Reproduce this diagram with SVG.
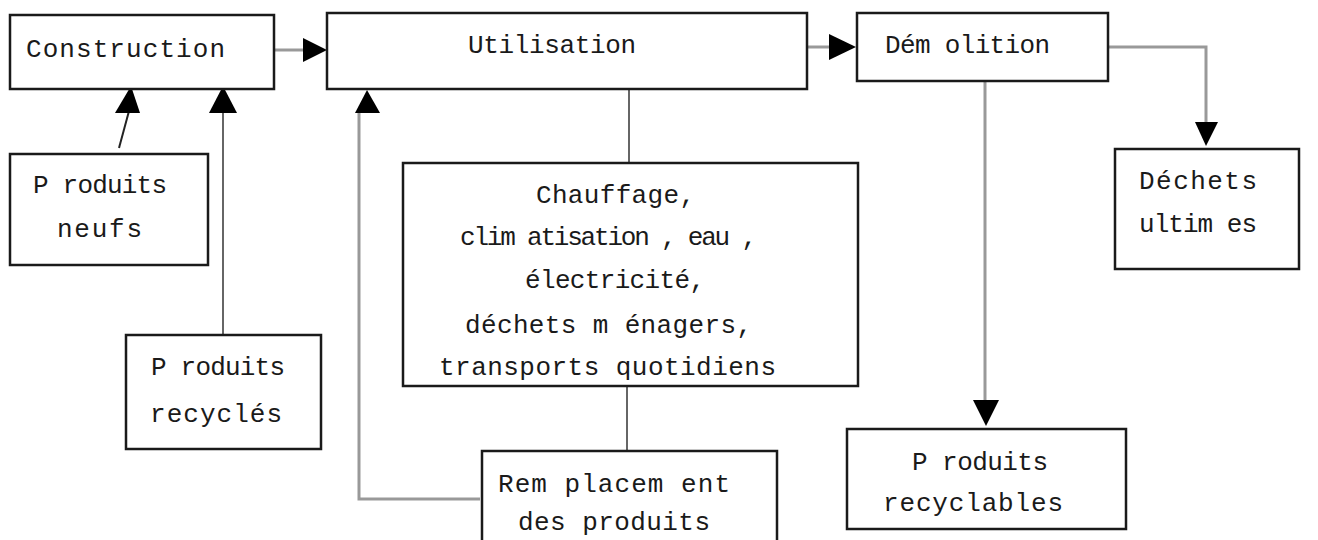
<svg xmlns="http://www.w3.org/2000/svg" width="1318" height="540" viewBox="0 0 1318 540">
<style>
.box{fill:#fff;stroke:#1a1a1a;stroke-width:2.5}
.t{font-family:"Liberation Mono","DejaVu Sans Mono",monospace;font-size:26px;fill:#1a1a1a}
.g{fill:none;stroke:#999;stroke-width:3}
.d{fill:none;stroke:#666;stroke-width:2}
.k{fill:none;stroke:#222;stroke-width:2}
.ah{fill:#000}
</style>
<rect width="1318" height="540" fill="#fff"/>
<g id="connectors">
<line class="g" x1="274" y1="50" x2="305" y2="50"/>
<polygon class="ah" points="303,38 303,62 327,50"/>
<line class="g" x1="807" y1="47" x2="831" y2="47"/>
<polygon class="ah" points="829,34 829,60 856,47"/>
<polyline class="g" points="1108,47 1206,47 1206,124"/>
<polygon class="ah" points="1195,122 1218,122 1206,146"/>
<line class="g" x1="985" y1="81" x2="985" y2="402"/>
<polygon class="ah" points="973,400 999,400 986,426"/>
<line class="k" x1="119" y1="148" x2="129" y2="111"/>
<polygon class="ah" points="115,113 140,113 131,86"/>
<line class="d" x1="223" y1="335" x2="223" y2="111"/>
<polygon class="ah" points="209,113 237,113 223,86"/>
<line class="d" x1="629" y1="89" x2="629" y2="163"/>
<line class="d" x1="627" y1="386" x2="627" y2="451"/>
<polyline class="g" points="480,499 359,499 359,111"/>
<polygon class="ah" points="355,113 380,113 367,90"/>
</g>
<g id="construction">
<rect class="box" x="10" y="15" width="264" height="74"/>
<text class="t" x="26" y="57" textLength="199" lengthAdjust="spacing">Construction</text>
</g>
<g id="utilisation">
<rect class="box" x="327" y="13" width="480" height="76"/>
<text class="t" x="468" y="53" textLength="168" lengthAdjust="spacing">Utilisation</text>
</g>
<g id="demolition">
<rect class="box" x="857" y="13" width="251" height="68"/>
<text class="t" x="885" y="53" textLength="165" lengthAdjust="spacing">Dém olition</text>
</g>
<g id="dechets-ultimes">
<rect class="box" x="1115" y="149" width="184" height="120"/>
<text class="t" x="1139" y="189" textLength="118" lengthAdjust="spacing">Déchets</text>
<text class="t" x="1139" y="232" textLength="118" lengthAdjust="spacing">ultim es</text>
</g>
<g id="produits-neufs">
<rect class="box" x="10" y="154" width="198" height="111"/>
<text class="t" x="33" y="193" textLength="134" lengthAdjust="spacing">P roduits</text>
<text class="t" x="57" y="237" textLength="85" lengthAdjust="spacing">neufs</text>
</g>
<g id="produits-recycles">
<rect class="box" x="126" y="335" width="195" height="114"/>
<text class="t" x="151" y="375" textLength="134" lengthAdjust="spacing">P roduits</text>
<text class="t" x="150" y="422" textLength="132" lengthAdjust="spacing">recyclés</text>
</g>
<g id="consommations">
<rect class="box" x="403" y="163" width="455" height="223"/>
<text class="t" x="536" y="203" textLength="159" lengthAdjust="spacing">Chauffage,</text>
<text class="t" x="460" y="245" textLength="297" lengthAdjust="spacing">clim atisation , eau ,</text>
<text class="t" x="525" y="288" textLength="180" lengthAdjust="spacing">électricité,</text>
<text class="t" x="465" y="333" textLength="287" lengthAdjust="spacing">déchets m énagers,</text>
<text class="t" x="439" y="375" textLength="337" lengthAdjust="spacing">transports quotidiens</text>
</g>
<g id="remplacement">
<rect class="box" x="482" y="451" width="295" height="100"/>
<text class="t" x="498" y="492" textLength="232" lengthAdjust="spacing">Rem placem ent</text>
<text class="t" x="518" y="530" textLength="192" lengthAdjust="spacing">des produits</text>
</g>
<g id="produits-recyclables">
<rect class="box" x="847" y="429" width="279" height="100"/>
<text class="t" x="912" y="470" textLength="136" lengthAdjust="spacing">P roduits</text>
<text class="t" x="883" y="511" textLength="180" lengthAdjust="spacing">recyclables</text>
</g>
</svg>
